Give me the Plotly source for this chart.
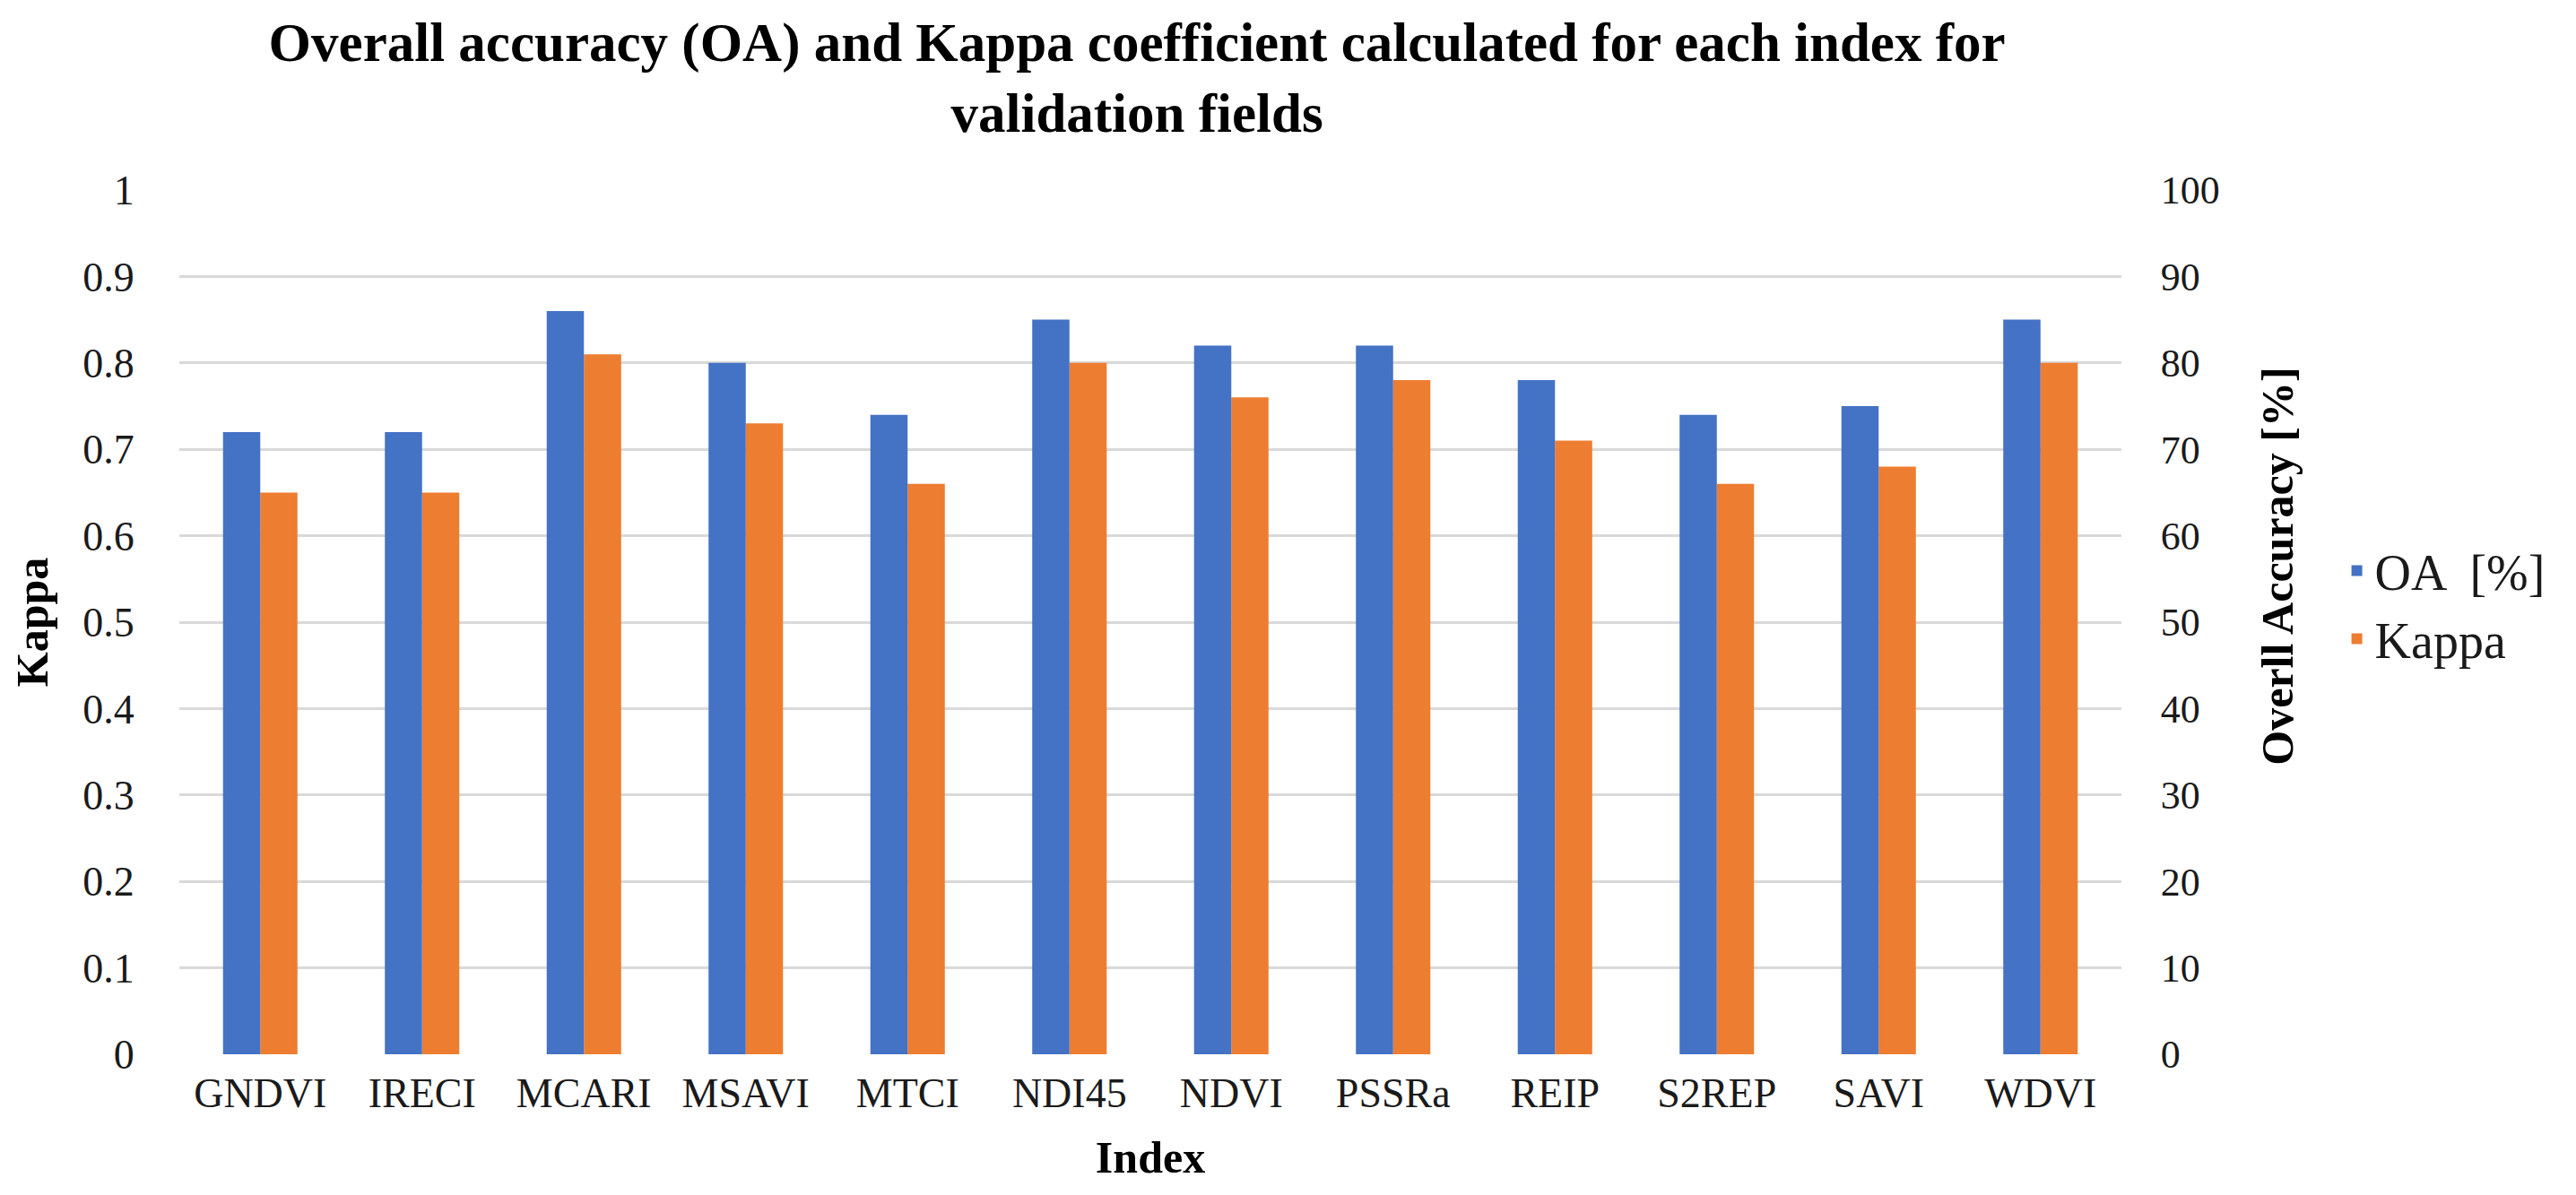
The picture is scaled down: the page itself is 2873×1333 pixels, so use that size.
import plotly.graph_objects as go

categories = ["GNDVI", "IRECI", "MCARI", "MSAVI", "MTCI", "NDI45",
              "NDVI", "PSSRa", "REIP", "S2REP", "SAVI", "WDVI"]
oa_percent = [72, 72, 86, 80, 74, 85, 82, 82, 78, 74, 75, 85]
kappa = [0.65, 0.65, 0.81, 0.73, 0.66, 0.80, 0.76, 0.78, 0.71, 0.66, 0.68, 0.80]

left_ticks = [0, 0.1, 0.2, 0.3, 0.4, 0.5, 0.6, 0.7, 0.8, 0.9, 1]
left_labels = ["0", "0.1", "0.2", "0.3", "0.4", "0.5", "0.6", "0.7", "0.8", "0.9", "1"]
right_ticks = [0, 10, 20, 30, 40, 50, 60, 70, 80, 90, 100]

FONT = "Liberation Serif"
BLUE = "#4472C4"
ORANGE = "#ED7D31"
GRID = "#D9D9D9"

fig = go.Figure()
fig.add_trace(go.Bar(
    x=categories, y=oa_percent, name="OA  [%]", yaxis="y2",
    marker=dict(color=BLUE, line=dict(width=0)),
    alignmentgroup="g", offsetgroup="oa",
))
fig.add_trace(go.Bar(
    x=categories, y=kappa, name="Kappa", yaxis="y",
    marker=dict(color=ORANGE, line=dict(width=0)),
    alignmentgroup="g", offsetgroup="kappa",
))

fig.update_layout(
    width=2873, height=1333,
    margin=dict(l=192, r=515, t=204, b=165),
    paper_bgcolor="white", plot_bgcolor="white",
    barmode="group", bargap=0.54, bargroupgap=0,
    font=dict(family=FONT, color="#1a1a1a"),
    title=dict(
        text="<b>Overall accuracy (OA) and Kappa coefficient calculated for each index for<br>validation fields</b>",
        x=0.4386, xanchor="center", y=0.955, yanchor="top",
        font=dict(family=FONT, size=61, color="#000000"),
    ),
    xaxis=dict(
        type="category", showgrid=False, showline=False, zeroline=False,
        ticks="outside", ticklen=3, tickcolor="rgba(0,0,0,0)",
        tickfont=dict(family=FONT, size=46, color="#1a1a1a"),
        title=dict(text="<b>Index</b>", font=dict(family=FONT, size=50, color="#000000"), standoff=28),
    ),
    yaxis=dict(
        range=[0, 1], tickvals=left_ticks, ticktext=left_labels,
        showgrid=True, gridcolor=GRID, gridwidth=3,
        showline=False, zeroline=False,
        ticks="outside", ticklen=40, tickcolor="rgba(0,0,0,0)",
        tickfont=dict(family=FONT, size=46, color="#1a1a1a"),
        title=dict(text="<b>Kappa</b>", font=dict(family=FONT, size=50, color="#000000"), standoff=22),
    ),
    yaxis2=dict(
        range=[0, 100], tickvals=right_ticks,
        overlaying="y", side="right",
        showgrid=False, showline=False, zeroline=False,
        ticks="outside", ticklen=34, tickcolor="rgba(0,0,0,0)",
        tickfont=dict(family=FONT, size=44, color="#1a1a1a"),
    ),
    legend=dict(
        x=1.112, xanchor="left", y=0.52, yanchor="middle",
        font=dict(family=FONT, size=56, color="#1a1a1a"),
        bgcolor="rgba(0,0,0,0)", tracegroupgap=30,
    ),
    annotations=[dict(
        text="<b>Overll Accuracy [%]</b>", textangle=-90,
        xref="paper", yref="paper", x=1.0805, y=0.565,
        xanchor="center", yanchor="middle", showarrow=False,
        font=dict(family=FONT, size=50, color="#000000"),
    )],
)

fig.write_html("out.html")
